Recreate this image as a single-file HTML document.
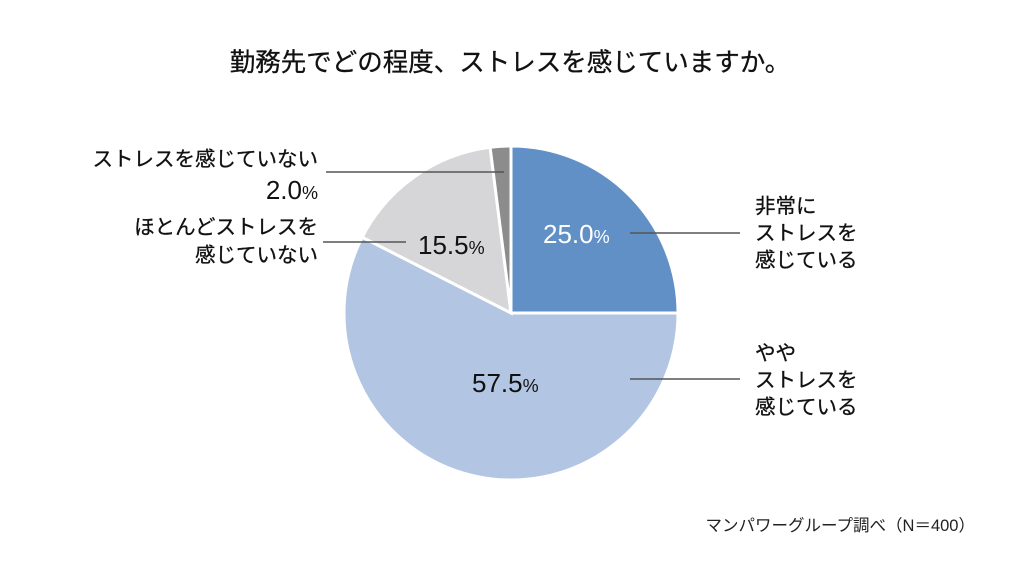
<!DOCTYPE html>
<html><head><meta charset="utf-8"><style>
body{margin:0;background:#fff;}
svg{display:block;font-family:"Liberation Sans","Noto Sans CJK JP",sans-serif;}
</style></head><body>
<svg width="1024" height="582" viewBox="0 0 1024 582">
<rect width="1024" height="582" fill="#fff"/>
<text x="510" y="71" font-size="25.5" text-anchor="middle" fill="#111" stroke="#111" stroke-width="0.3">勤務先でどの程度、ストレスを感じていますか。</text>
<g stroke="#fff" stroke-width="3">
<path d="M511,313 L511,146 A167,167 0 0 1 678,313 Z" fill="#6190c6"/>
<path d="M511,313 L678,313 A167,167 0 1 1 362.2,237.2 Z" fill="#b2c5e2"/>
<path d="M511,313 L362.2,237.2 A167,167 0 0 1 490.1,147.3 Z" fill="#d6d6d8"/>
<path d="M511,313 L490.1,147.3 A167,167 0 0 1 511,146 Z" fill="#8c8c8c"/>
</g>
<g stroke="#555" stroke-width="1.5">
<line x1="630" y1="233" x2="740" y2="233"/>
<line x1="630" y1="379" x2="740" y2="379"/>
<line x1="326" y1="172" x2="504" y2="172"/>
<line x1="323" y1="242" x2="406" y2="242"/>
</g>
<g font-size="20.5" fill="#111" stroke="#111" stroke-width="0.3">
<text x="755" y="213">非常に</text>
<text x="755" y="240">ストレスを</text>
<text x="755" y="267">感じている</text>
<text x="755" y="360">やや</text>
<text x="755" y="387">ストレスを</text>
<text x="755" y="414">感じている</text>
<text x="318" y="166" text-anchor="end">ストレスを感じていない</text>
<text x="318" y="234" text-anchor="end">ほとんどストレスを</text>
<text x="318" y="262" text-anchor="end">感じていない</text>
</g>
<g font-size="26">
<text x="543" y="243" fill="#fff">25.0<tspan font-size="18">%</tspan></text>
<text x="472" y="392" fill="#111">57.5<tspan font-size="18">%</tspan></text>
<text x="418" y="254" fill="#111">15.5<tspan font-size="18">%</tspan></text>
<text x="318" y="199" fill="#111" text-anchor="end">2.0<tspan font-size="18">%</tspan></text>
</g>
<text x="975" y="531" font-size="16.5" text-anchor="end" fill="#222">マンパワーグループ調べ（N＝400）</text>
</svg>
</body></html>
